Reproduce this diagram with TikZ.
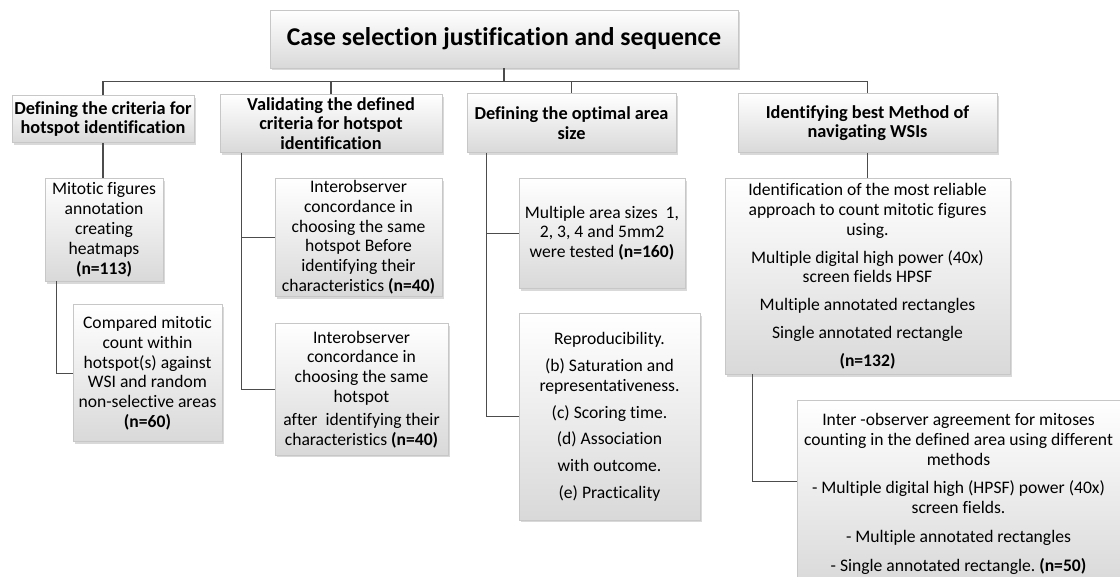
\documentclass[tikz,border=0pt]{standalone}
\usepackage{fontspec}
\setmainfont[Ligatures=NoCommon]{Carlito}
\frenchspacing
\usetikzlibrary{positioning,shadows}

\begin{document}
\begin{tikzpicture}[x=1pt,y=1pt]
  \tikzset{BoxNode/.style = {shape = rectangle, draw = black!22, line width = 0.6pt, top color = white, bottom color = black!15, drop shadow = {shadow xshift = 2pt, shadow yshift = -2.5pt, opacity = 0.3}, align = center, inner xsep = 1pt, inner ysep = 1pt, font = \fontsize{17.6}{19.8}\selectfont}};
  \tikzset{HeadNode/.style = {BoxNode, font = \fontsize{18.3}{19.8}\selectfont\bfseries}};
  \tikzset{LinkStyle/.style = {draw = black!70, line width = 1.1pt}};

  \useasboundingbox (0,0) rectangle (1120,-577);

  \node[HeadNode, minimum width = 468pt, minimum height = 58pt, font = \fontsize{25.6}{30}\selectfont\bfseries] (title) at (504,-39) {Case selection justification and sequence};

  % headers
  \node[HeadNode, minimum width = 182pt, minimum height = 47pt, below = 27pt of title, xshift = -401pt] (crit) {Defining the criteria for\\hotspot identification};
  \node[HeadNode, minimum width = 222pt, minimum height = 58pt, below = 26pt of title, xshift = -173pt] (valid) {Validating the defined\\criteria for hotspot\\identification};
  \node[HeadNode, minimum width = 209pt, minimum height = 59pt, below = 25pt of title, xshift = 67.5pt] (area) {Defining the optimal area\\size};
  \node[HeadNode, minimum width = 259pt, minimum height = 59pt, below = 25pt of title, xshift = 363.5pt] (method) {Identifying best Method of\\navigating WSIs};

  % first column
  \node[BoxNode, minimum width = 118pt, minimum height = 103pt, below = 35pt of crit, xshift = 1pt] (heatmap) {Mitotic figures\\annotation\\creating\\heatmaps\\\textbf{(n=113)}};
  \node[BoxNode, minimum width = 149pt, minimum height = 137pt, below = 23pt of heatmap, xshift = 43.5pt] (compare) {Compared mitotic\\count within\\hotspot(s) against\\WSI and random\\non-selective areas\\\textbf{(n=60)}};

  % second column
  \node[BoxNode, minimum width = 167pt, minimum height = 118pt, below = 25pt of valid, xshift = 27.5pt] (before) {Interobserver\\concordance in\\choosing the same\\hotspot Before\\identifying their\\characteristics \textbf{(n=40)}};
  \node[BoxNode, minimum width = 173pt, minimum height = 131pt, below = 27pt of before, xshift = 3pt] (after) {Interobserver\\concordance in\\choosing the same\\hotspot\\[3pt]after~ identifying their\\characteristics \textbf{(n=40)}};

  % third column
  \node[BoxNode, minimum width = 166pt, minimum height = 110pt, below = 25pt of area, xshift = 30.5pt] (sizes) {Multiple area sizes~ 1,\\2, 3, 4 and 5mm2\\were tested \textbf{(n=160)}};
  \node[BoxNode, minimum width = 181pt, minimum height = 206pt, below = 25pt of sizes, xshift = 7.5pt] (aims) {Reproducibility.\\[7pt](b) Saturation and\\representativeness.\\[8pt](c) Scoring time.\\[6pt](d) Association\\[7pt]with outcome.\\[7pt](e) Practicality};

  % fourth column
  \node[BoxNode, minimum width = 285pt, minimum height = 196pt, below = 25pt of method] (approach) {Identification of the most reliable\\approach to count mitotic figures\\using.\\[8pt]Multiple digital high power (40x)\\screen fields HPSF\\[8pt]Multiple annotated rectangles\\[8pt]Single annotated rectangle\\[8pt]\textbf{(n=132)}};
  \node[BoxNode, minimum width = 323pt, minimum height = 186pt, below = 26pt of approach, xshift = 91pt] (agree) {Inter -observer agreement for mitoses\\counting in the defined area using different\\methods\\[9pt]- Multiple digital high (HPSF) power (40x)\\screen fields.\\[9pt]- Multiple annotated rectangles\\[9pt]- Single annotated rectangle. \textbf{(n=50)}};

  % connectors
  \coordinate (bus) at ([yshift=-13pt]title.south);
  \draw[LinkStyle] (title.south) to (bus);
  \draw[LinkStyle] (bus -| crit.north) to (bus -| method.north);
  \foreach \head in {crit,valid,area,method}
    \draw[LinkStyle] (bus -| \head.north) to (\head.north);
  \draw[LinkStyle] (crit.south) to (crit.south |- heatmap.north);
  \draw[LinkStyle] ([xshift=12pt]heatmap.south west) |- (compare.west);
  \draw[LinkStyle] ([xshift=22pt]valid.south west) |- (before.west);
  \draw[LinkStyle] ([xshift=22pt]valid.south west) |- (after.west);
  \draw[LinkStyle] ([xshift=20pt]area.south west) |- (sizes.west);
  \draw[LinkStyle] ([xshift=20pt]area.south west) |- (aims.west);
  \draw[LinkStyle] (method.south) to (approach.north);
  \draw[LinkStyle] ([xshift=28pt]approach.south west) |- ([yshift=12pt]agree.west);
\end{tikzpicture}
\end{document}
